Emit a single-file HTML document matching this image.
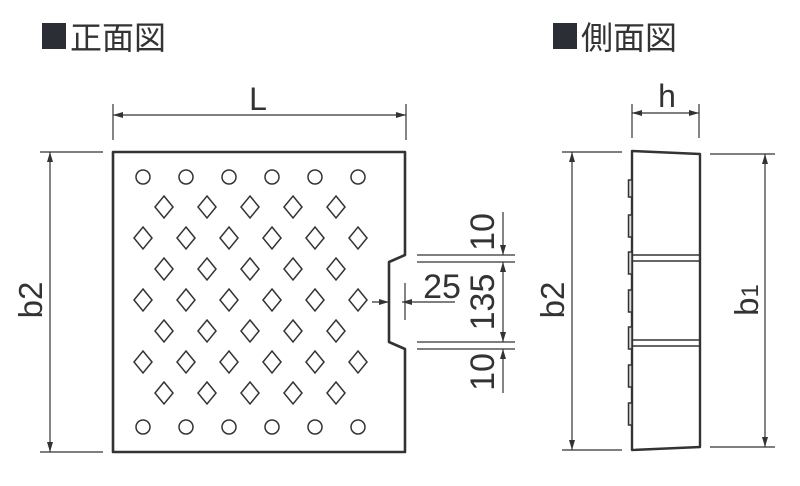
<!DOCTYPE html>
<html><head><meta charset="utf-8"><style>
html,body{margin:0;padding:0;background:#fff;width:800px;height:486px;overflow:hidden}
text{font-family:"Liberation Sans","Noto Sans CJK JP",sans-serif;fill:#333}
</style></head><body>
<svg width="800" height="486" viewBox="0 0 800 486" xmlns="http://www.w3.org/2000/svg">
<defs>
<marker id="a" viewBox="0 0 10 6" refX="10" refY="3" markerWidth="10" markerHeight="6" orient="auto-start-reverse" markerUnits="userSpaceOnUse"><path d="M0,0L10,3L0,6z" fill="#333"/></marker>
</defs>
<rect x="42" y="23" width="24" height="26" fill="#2b2e35"/>
<text x="70" y="49" font-size="32" style="font-family:'Noto Sans CJK JP',sans-serif">正面図</text>
<rect x="553" y="23" width="24" height="26" fill="#2b2e35"/>
<text x="581" y="49" font-size="32" style="font-family:'Noto Sans CJK JP',sans-serif">側面図</text>

<g stroke="#333" fill="none" stroke-width="1.2">
<path d="M113,152 H405 V255 L389,262 V342 L405,349 V452 H113 Z" stroke-width="2.6" stroke-linejoin="round"/>
<line x1="113" y1="104" x2="113" y2="140"/>
<line x1="406" y1="104" x2="406" y2="140"/>
<line x1="113" y1="115" x2="406" y2="115" marker-start="url(#a)" marker-end="url(#a)"/>
<line x1="40" y1="152" x2="103" y2="152"/>
<line x1="40" y1="452" x2="103" y2="452"/>
<line x1="50" y1="152" x2="50" y2="452" marker-start="url(#a)" marker-end="url(#a)"/>
<line x1="417" y1="255" x2="515" y2="255"/>
<line x1="417" y1="262" x2="515" y2="262"/>
<line x1="417" y1="342" x2="515" y2="342"/>
<line x1="417" y1="349" x2="515" y2="349"/>
<line x1="503" y1="212" x2="503" y2="255" marker-end="url(#a)"/>
<line x1="503" y1="262" x2="503" y2="342" marker-start="url(#a)" marker-end="url(#a)"/>
<line x1="503" y1="349" x2="503" y2="393" marker-start="url(#a)"/>
<line x1="372" y1="302" x2="389" y2="302" marker-end="url(#a)"/>
<line x1="402" y1="302" x2="455" y2="302" marker-start="url(#a)"/>
<line x1="405" y1="283" x2="405" y2="320"/>
<path d="M632,151 L700,154 V447 L632,450 Z" stroke-width="2.4" stroke-linejoin="round"/>
<line x1="632" y1="255" x2="700" y2="255" stroke-width="1.6"/>
<line x1="632" y1="261" x2="700" y2="261" stroke-width="1.6"/>
<line x1="632" y1="340" x2="700" y2="340" stroke-width="1.6"/>
<line x1="632" y1="346" x2="700" y2="346" stroke-width="1.6"/>
<g stroke-width="1.5" fill="#ddd">
<rect x="628.5" y="180" width="3.5" height="17"/>
<rect x="628.5" y="215" width="3.5" height="22"/>
<rect x="628.5" y="252" width="3.5" height="22"/>
<rect x="628.5" y="290" width="3.5" height="22"/>
<rect x="628.5" y="327" width="3.5" height="22"/>
<rect x="628.5" y="365" width="3.5" height="22"/>
<rect x="628.5" y="403" width="3.5" height="22"/>
</g>
<line x1="632" y1="104" x2="632" y2="138"/>
<line x1="699" y1="104" x2="699" y2="138"/>
<line x1="632" y1="113" x2="699" y2="113" marker-start="url(#a)" marker-end="url(#a)"/>
<line x1="562" y1="152" x2="622" y2="152"/>
<line x1="562" y1="450" x2="622" y2="450"/>
<line x1="572" y1="152" x2="572" y2="450" marker-start="url(#a)" marker-end="url(#a)"/>
<line x1="710" y1="154" x2="775" y2="154"/>
<line x1="710" y1="447" x2="775" y2="447"/>
<line x1="765" y1="154" x2="765" y2="447" marker-start="url(#a)" marker-end="url(#a)"/>
</g>

<g stroke="#333" fill="none" stroke-width="1.5">
<circle cx="143" cy="177" r="7"/><circle cx="186" cy="177" r="7"/><circle cx="229" cy="177" r="7"/><circle cx="272" cy="177" r="7"/><circle cx="315" cy="177" r="7"/><circle cx="358" cy="177" r="7"/>
<circle cx="143" cy="427" r="7"/><circle cx="186" cy="427" r="7"/><circle cx="229" cy="427" r="7"/><circle cx="272" cy="427" r="7"/><circle cx="315" cy="427" r="7"/><circle cx="358" cy="427" r="7"/>
<g id="rA">
<path d="M164,196 l9,11 l-9,11 l-9,-11z"/><path d="M207,196 l9,11 l-9,11 l-9,-11z"/><path d="M250,196 l9,11 l-9,11 l-9,-11z"/><path d="M293,196 l9,11 l-9,11 l-9,-11z"/><path d="M336,196 l9,11 l-9,11 l-9,-11z"/>
</g>
<g id="rB">
<path d="M143,227 l9,11 l-9,11 l-9,-11z"/><path d="M186,227 l9,11 l-9,11 l-9,-11z"/><path d="M229,227 l9,11 l-9,11 l-9,-11z"/><path d="M272,227 l9,11 l-9,11 l-9,-11z"/><path d="M315,227 l9,11 l-9,11 l-9,-11z"/><path d="M358,227 l9,11 l-9,11 l-9,-11z"/>
</g>
<use href="#rA" y="62"/><use href="#rA" y="124"/><use href="#rA" y="186"/>
<use href="#rB" y="62"/><use href="#rB" y="124"/>
</g>

<text x="258" y="110" font-size="32" text-anchor="middle">L</text>
<text transform="translate(42,300) rotate(-90)" font-size="33" text-anchor="middle">b2</text>
<text x="442" y="298" font-size="34" text-anchor="middle">25</text>
<text transform="translate(494,232) rotate(-90)" font-size="34" text-anchor="middle">10</text>
<text transform="translate(494,302) rotate(-90)" font-size="34" text-anchor="middle">135</text>
<text transform="translate(494,372) rotate(-90)" font-size="34" text-anchor="middle">10</text>
<text x="667" y="107" font-size="32" text-anchor="middle">h</text>
<text transform="translate(564,300) rotate(-90)" font-size="33" text-anchor="middle">b2</text>
<text transform="translate(758,300) rotate(-90)" font-size="33" text-anchor="middle">b<tspan font-size="24">1</tspan></text>
</svg>
</body></html>
